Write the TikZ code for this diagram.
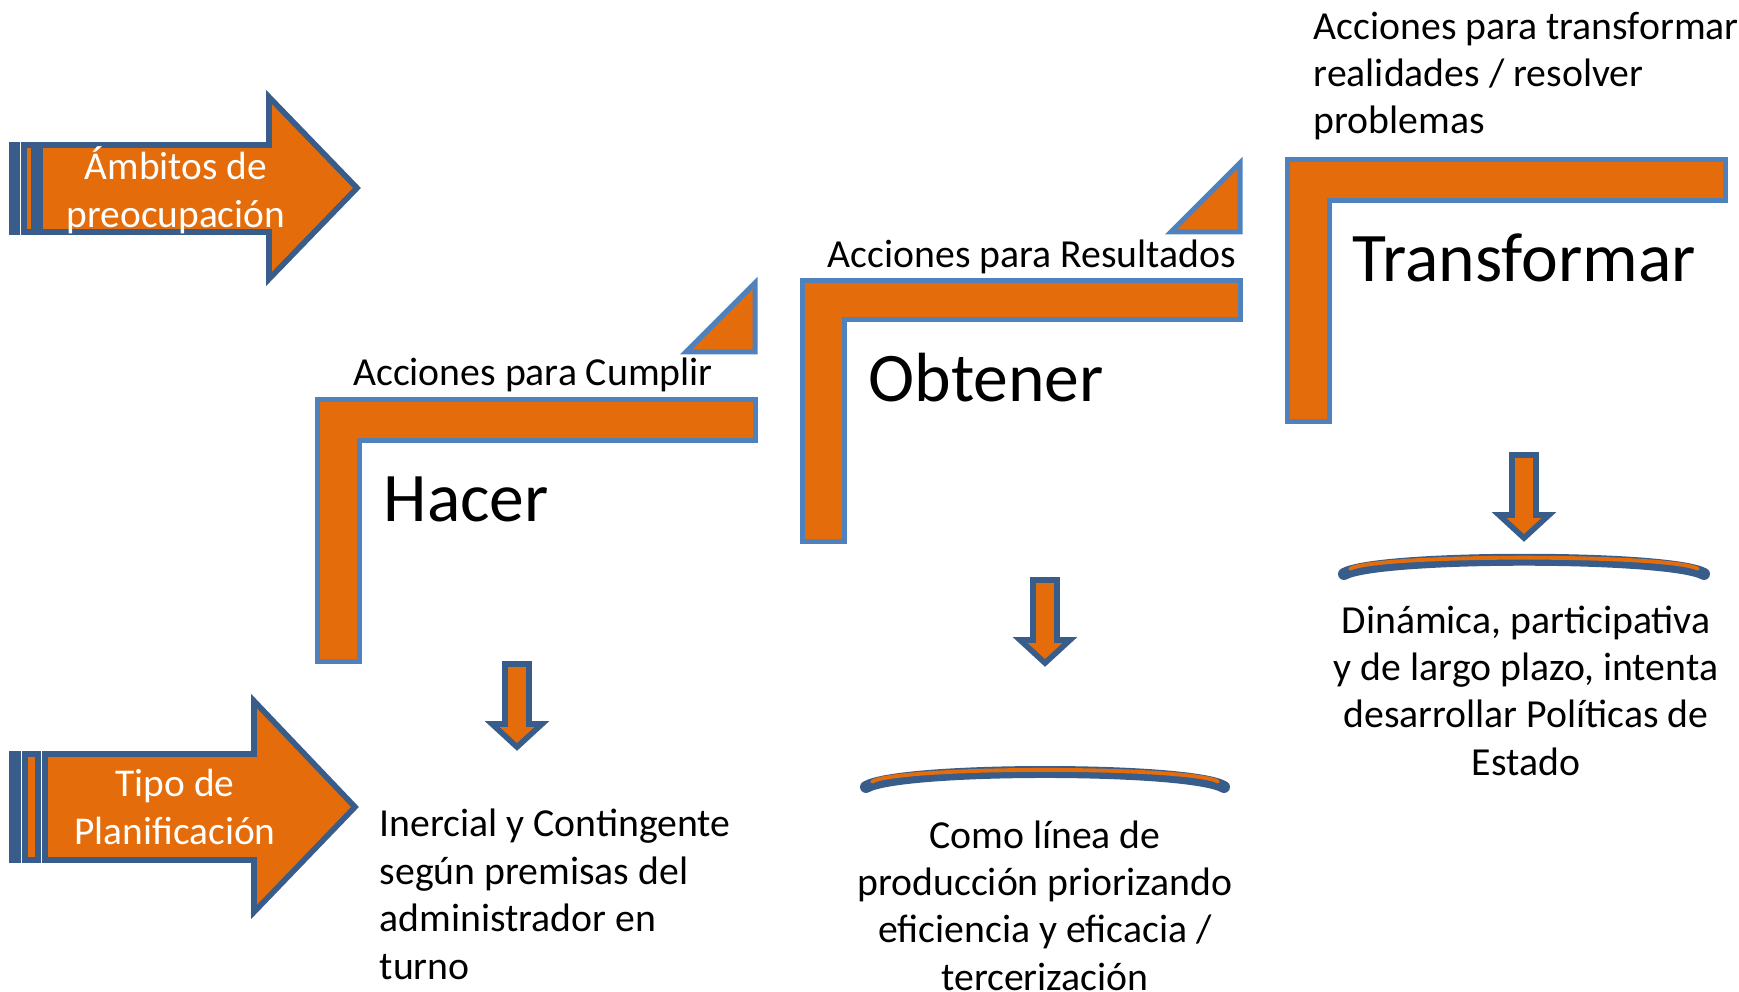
\documentclass[tikz,border=0pt]{standalone}
\usepackage{fontspec}
\setmainfont{Carlito}
\definecolor{naranja}{HTML}{E46C0A}
\definecolor{azul}{HTML}{385D8A}
\definecolor{celeste}{HTML}{4F81BD}
\tikzset{
	ele/.style={fill=naranja,draw=celeste,line width=1.42pt},
	flecha/.style={fill=naranja,draw=azul,line width=1.6pt},
	arcoext/.style={draw=azul,line width=3.4pt,line cap=round},
	arcoint/.style={draw=naranja,line width=1.1pt,line cap=round,shorten <=0.07cm,shorten >=0.07cm},
	grande/.style={font=\fontsize{19.8}{24}\selectfont,inner sep=0pt},
	rotulo/.style={font=\fontsize{11.3}{13.45}\selectfont,inner sep=0pt},
	blanco/.style={font=\fontsize{11.2}{13.7}\selectfont,text=white,align=center,inner sep=0pt}
}
\begin{document}
\begin{tikzpicture}[x=0.01cm,y=-0.01cm]
	\useasboundingbox (0,0) rectangle (1739,992);
	% flechas de la izquierda
	\filldraw[flecha] (12,145) rectangle (17,232);
	\filldraw[flecha] (24,145) rectangle (34,232);
	\filldraw[flecha] (40,145) -- (269,145) -- (269,97) -- (357,188) -- (269,279) -- (269,232) -- (40,232) -- cycle;
	\node[blanco] (ambitos) at (176,190) {Ámbitos de\\preocupación};
	\filldraw[flecha] (12,754) rectangle (18,860);
	\filldraw[flecha] (25,754) rectangle (38,860);
	\filldraw[flecha] (45,754) -- (254,754) -- (254,701) -- (355,807) -- (254,912) -- (254,860) -- (45,860) -- cycle;
	\node[blanco] (tipo) at (175,807) {Tipo de\\Planificación};
	% escalones
	\filldraw[ele] (317,400) -- (755,400) -- (755,441) -- (359,441) -- (359,662) -- (317,662) -- cycle;
	\filldraw[ele] (686,352) -- (755,352) -- (755,283) -- cycle;
	\filldraw[ele] (802,281) -- (1240,281) -- (1240,320) -- (844,320) -- (844,542) -- (802,542) -- cycle;
	\filldraw[ele] (1171,232) -- (1240,232) -- (1240,163) -- cycle;
	\filldraw[ele] (1287,160) -- (1725,160) -- (1725,201) -- (1329,201) -- (1329,422) -- (1287,422) -- cycle;
	\node[rotulo,anchor=base] (cumplir) at (533,386) {Acciones para Cumplir};
	\node[rotulo,anchor=base] (resultados) at (1032,268) {Acciones para Resultados};
	\node[rotulo,anchor=north west,align=left] (acctransf) at (1313,11) {Acciones para transformar\\realidades / resolver\\problemas};
	\node[grande,anchor=base west] (hacer) at (383,522) {Hacer};
	\node[grande,anchor=base west] (obtener) at (868,402) {Obtener};
	\node[grande,anchor=base west] (transformar) at (1352,282) {Transformar};
	% flechas hacia abajo
	\foreach \x/\t in {517/664,1045/580,1524/455}
		\filldraw[flecha] (\x-12,\t) -- (\x+12,\t) -- (\x+12,\t+60) -- (\x+25,\t+60) -- (\x,\t+83) -- (\x-25,\t+60) -- (\x-12,\t+60) -- cycle;
	% arcos
	\draw[arcoext] (866,787) .. controls (900,767) and (1190,767) .. (1224,787);
	\draw[arcoint] (866,785) .. controls (900,766) and (1190,766) .. (1224,785);
	\draw[arcoext] (1344,574) .. controls (1378,555) and (1670,555) .. (1704,574);
	\draw[arcoint] (1344,572) .. controls (1378,554) and (1670,554) .. (1704,572);
	% textos inferiores
	\node[anchor=north west,align=left,inner sep=0pt,font=\fontsize{11.3}{13.6}\selectfont] (inercial) at (379,808) {Inercial y Contingente\\según premisas del\\administrador en\\turno};
	\node[rotulo,anchor=north,align=center] (linea) at (1045,820) {Como línea de\\producción priorizando\\eficiencia y eficacia /\\tercerización};
	\node[rotulo,anchor=north,align=center] (dinamica) at (1526,605) {Dinámica, participativa\\y de largo plazo, intenta\\desarrollar Políticas de\\Estado};
\end{tikzpicture}
\end{document}
